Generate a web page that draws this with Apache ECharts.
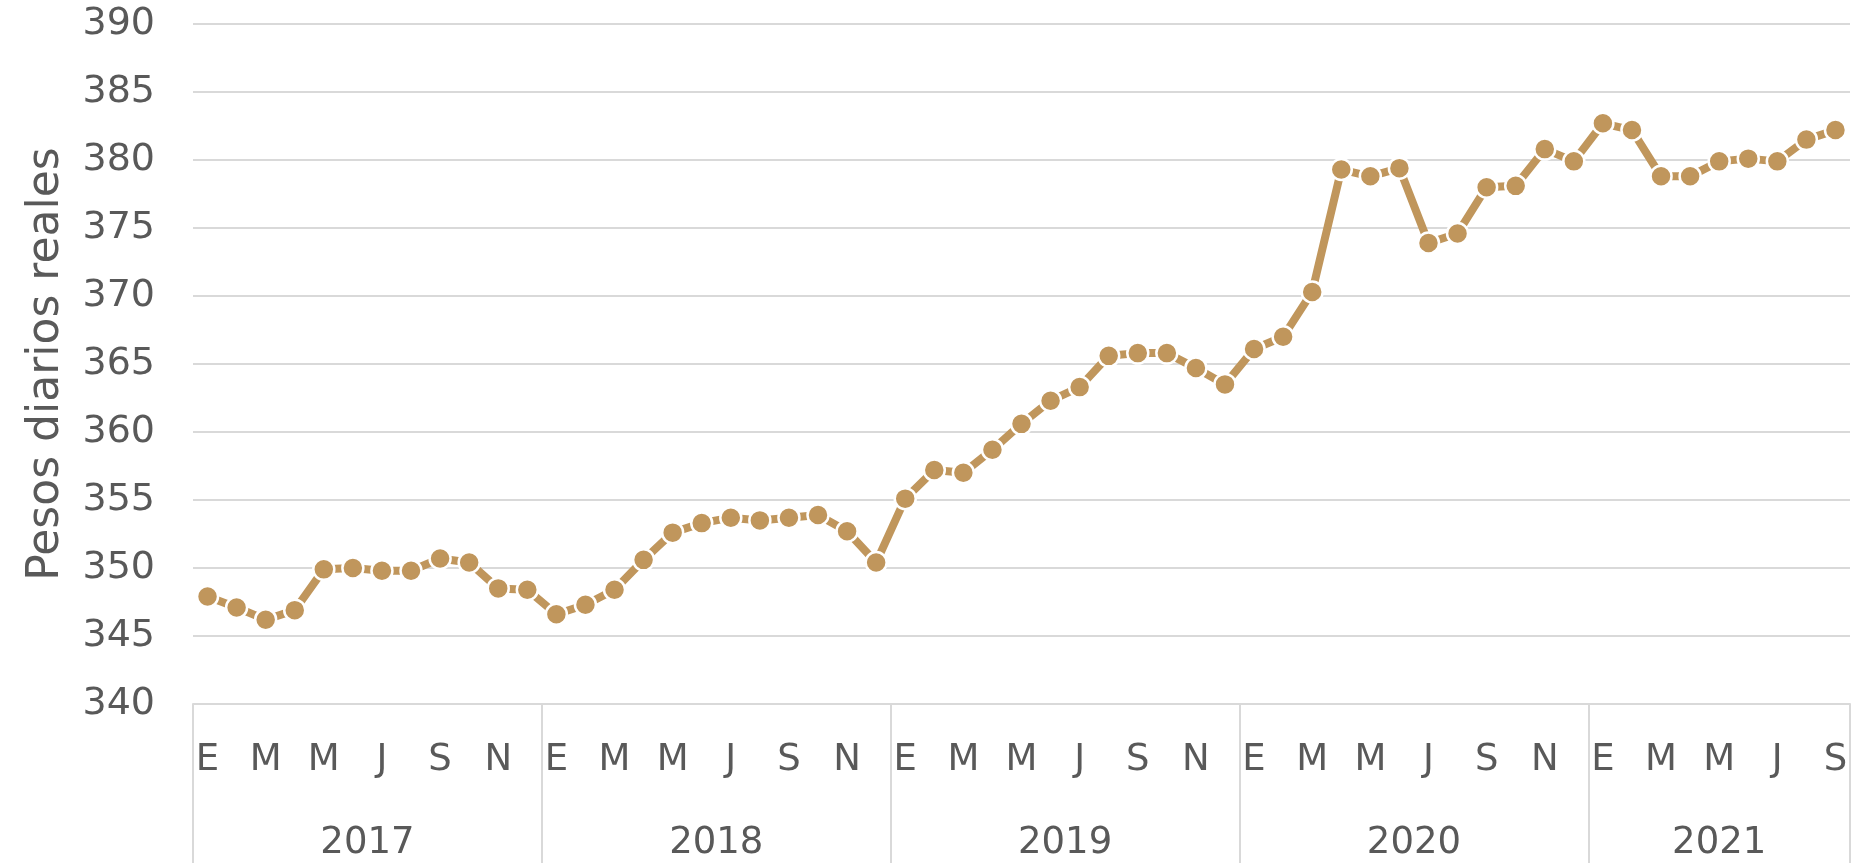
<!DOCTYPE html>
<html>
<head>
<meta charset="utf-8">
<script src="https://cdn.jsdelivr.net/npm/echarts@6/dist/echarts.min.js"></script>
<style>
html,body{margin:0;padding:0;background:#fff;}
#chart{width:1854px;height:863px;}
</style>
</head>
<body>
<div id="chart"></div>
<script>
// ---- data ----
const years = ['2017', '2018', '2019', '2020', '2021'];
const monthsPerYear = [12, 12, 12, 12, 9];
const monthLetters = ['E', 'F', 'M', 'A', 'M', 'J', 'J', 'A', 'S', 'O', 'N', 'D'];
const values2017 = [347.9, 347.1, 346.2, 346.9, 349.9, 350.0, 349.8, 349.8, 350.7, 350.4, 348.5, 348.4];
const values2018 = [346.6, 347.3, 348.4, 350.6, 352.6, 353.3, 353.7, 353.5, 353.7, 353.9, 352.7, 350.4];
const values2019 = [355.1, 357.2, 357.0, 358.7, 360.6, 362.3, 363.3, 365.6, 365.8, 365.8, 364.7, 363.5];
const values2020 = [366.1, 367.0, 370.3, 379.3, 378.8, 379.4, 373.9, 374.6, 378.0, 378.1, 380.8, 379.9];
const values2021 = [382.7, 382.2, 378.8, 378.8, 379.9, 380.1, 379.9, 381.5, 382.2];
const yAxisName = 'Pesos diarios reales';
const yMin = 340, yMax = 390, yStep = 5;

// ---- build categories ----
const categories = [];
const monthIndex = [];
const yearStartIdx = {};
years.forEach((y, yi) => {
  for (let m = 0; m < monthsPerYear[yi]; m++) {
    if (m === 0) yearStartIdx[categories.length] = true;
    categories.push(y + '-' + m);
    monthIndex.push(m);
  }
});
const values = [].concat(values2017, values2018, values2019, values2020, values2021);

// year label placed at middle of each year's span
const yearLabelIdx = {};
let start = 0;
years.forEach((y, yi) => {
  const n = monthsPerYear[yi];
  const mid = start + Math.floor((n - 1) / 2);
  yearLabelIdx[mid] = { year: y, even: n % 2 === 0 };
  start += n;
});

const FONT = 'DejaVu Sans';
const TXT = '#595959';
const GRIDC = '#d9d9d9';

const chart = echarts.init(document.getElementById('chart'), null, { renderer: 'canvas' });
const gridLeft = 193, gridRight = 4;
const bandW = (1854 - gridLeft - gridRight) / categories.length;

chart.setOption({
  animation: false,
  backgroundColor: '#ffffff',
  grid: { left: gridLeft, right: gridRight, top: 24, bottom: 159, containLabel: false },
  xAxis: [
    {
      type: 'category',
      data: categories,
      boundaryGap: true,
      axisLine: { show: true, lineStyle: { color: GRIDC, width: 2 } },
      axisTick: {
        show: true,
        length: 170,
        interval: (idx) => !!yearStartIdx[idx],
        lineStyle: { color: GRIDC, width: 2 }
      },
      axisLabel: {
        interval: 0,
        margin: 38,
        fontFamily: FONT,
        fontSize: 37,
        color: TXT,
        formatter: (v, idx) => (monthIndex[idx] % 2 === 0 ? monthLetters[monthIndex[idx]] : '')
      },
      splitLine: { show: false }
    },
    {
      type: 'category',
      data: categories,
      position: 'bottom',
      boundaryGap: true,
      axisLine: { show: false },
      axisTick: { show: false },
      axisLabel: {
        interval: 0,
        margin: 121,
        fontFamily: FONT,
        fontSize: 37,
        color: TXT,
        formatter: (v, idx) => {
          const info = yearLabelIdx[idx];
          if (!info) return '';
          return info.even ? '{e|' + info.year + '}' : '{o|' + info.year + '}';
        },
        rich: {
          e: { fontFamily: FONT, fontSize: 37, color: TXT, padding: [0, 0, 0, bandW] },
          o: { fontFamily: FONT, fontSize: 37, color: TXT }
        }
      }
    }
  ],
  yAxis: {
    type: 'value',
    min: yMin,
    max: yMax,
    interval: yStep,
    name: yAxisName,
    nameLocation: 'middle',
    nameGap: 124,
    nameRotate: 90,
    nameTextStyle: { fontFamily: FONT, fontSize: 44, color: TXT },
    axisLine: { show: false },
    axisTick: { show: false },
    axisLabel: { fontFamily: FONT, fontSize: 38, color: TXT, margin: 38 },
    splitLine: { show: true, lineStyle: { color: GRIDC, width: 2 } }
  },
  series: [
    {
      type: 'line',
      data: values,
      xAxisIndex: 0,
      symbol: 'circle',
      symbolSize: 21,
      lineStyle: { color: '#C0965C', width: 8 },
      itemStyle: { color: '#C0965C', borderColor: '#ffffff', borderWidth: 2.5 },
      z: 5
    }
  ]
});
</script>
</body>
</html>
